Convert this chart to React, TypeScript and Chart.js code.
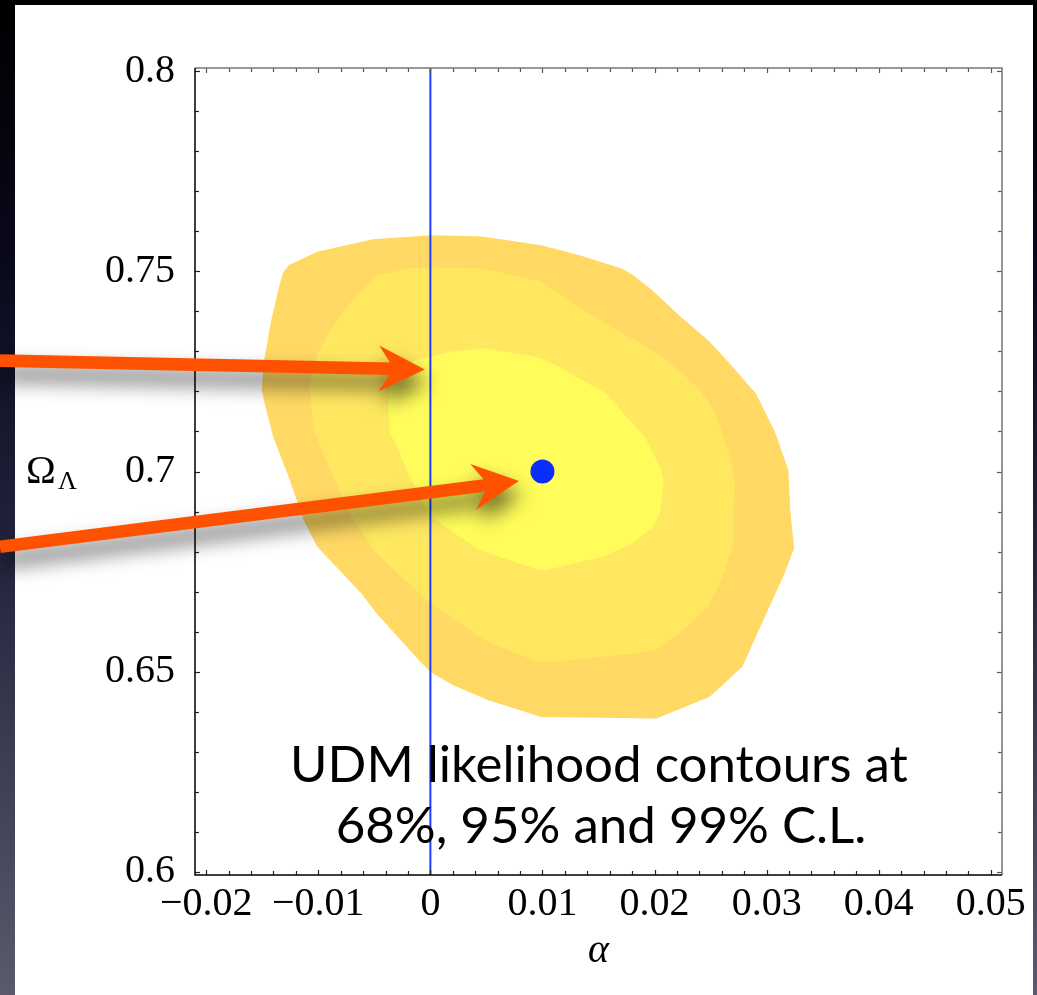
import React, { useEffect, useRef } from "react";
import { Chart, registerables } from "chart.js";

Chart.register(...registerables);

// ---- axes ----
const X_MIN = -0.021;
const X_MAX = 0.051;
const Y_MIN = 0.5992;
const Y_MAX = 0.8008;
const X_TICKS = [-0.02, -0.01, 0, 0.01, 0.02, 0.03, 0.04, 0.05];
const X_TICK_LABELS = ["\u22120.02", "\u22120.01", "0", "0.01", "0.02", "0.03", "0.04", "0.05"];
const Y_TICKS = [0.6, 0.65, 0.7, 0.75, 0.8];
const Y_TICK_LABELS = ["0.6", "0.65", "0.7", "0.75", "0.8"];
const X_MINOR_STEP = 0.002;
const Y_MINOR_STEP = 0.01;
const X_TITLE = "\u03B1";
const Y_TITLE = "\u03A9";
const Y_TITLE_SUB = "\u039B";
const NOTE_LINES = ["UDM likelihood contours at", "68%, 95% and 99% C.L."];

// ---- contours (alpha, Omega_Lambda) ----
const CONTOUR_99: [number, number][] = [
  [-0.01317, 0.7495], [-0.01265, 0.7515], [-0.01009, 0.7549], [-0.00513, 0.758],
  [0.0, 0.759], [0.00443, 0.7588], [0.0099, 0.7565], [0.01331, 0.754],
  [0.01707, 0.7507], [0.0181, 0.749], [0.0198, 0.7453], [0.0222, 0.739],
  [0.02493, 0.7324], [0.02698, 0.7261], [0.02904, 0.7195], [0.03074, 0.7099],
  [0.03194, 0.7003], [0.03211, 0.6903], [0.03245, 0.6808], [0.0316, 0.6745],
  [0.02971, 0.6629], [0.02784, 0.6512], [0.02493, 0.6437], [0.02015, 0.6383],
  [0.0099, 0.6387], [0.00512, 0.6429], [0.00204, 0.6466], [0.0, 0.6499],
  [-0.00104, 0.6529], [-0.00479, 0.6645], [-0.00616, 0.6695], [-0.01009, 0.6812],
  [-0.01129, 0.6878], [-0.01265, 0.6987], [-0.01402, 0.7086], [-0.01471, 0.7161],
  [-0.01504, 0.7203], [-0.01488, 0.727], [-0.0142, 0.7378], [-0.01351, 0.7461],
  [-0.01317, 0.7495],
];
const CONTOUR_95: [number, number][] = [
  [-0.00479, 0.749], [-0.00172, 0.7507], [0.0, 0.751], [0.00477, 0.7507],
  [0.0099, 0.7474], [0.01127, 0.7449], [0.01366, 0.7403], [0.01639, 0.7357],
  [0.0198, 0.7303], [0.02186, 0.7261], [0.02408, 0.7203], [0.02545, 0.7145],
  [0.02664, 0.7045], [0.02715, 0.6978], [0.02698, 0.6812], [0.02596, 0.6728],
  [0.02476, 0.6662], [0.02254, 0.6604], [0.02015, 0.6554], [0.0181, 0.6545],
  [0.01058, 0.6524], [0.00921, 0.6529], [0.00512, 0.6574], [0.0, 0.667],
  [-0.00479, 0.6795], [-0.00685, 0.6878], [-0.00788, 0.6937], [-0.00992, 0.707],
  [-0.01044, 0.7111], [-0.01078, 0.7211], [-0.01009, 0.7295], [-0.00889, 0.7353],
  [-0.00719, 0.742], [-0.00582, 0.7461], [-0.00479, 0.749],
];
const CONTOUR_68: [number, number][] = [
  [0.0, 0.7286], [0.0017, 0.7299], [0.00477, 0.7307], [0.00921, 0.7288],
  [0.01092, 0.727], [0.01331, 0.7232], [0.01571, 0.7195], [0.01673, 0.7161],
  [0.01913, 0.7086], [0.02049, 0.7011], [0.02083, 0.6978], [0.02049, 0.6895],
  [0.0198, 0.6858], [0.01776, 0.6816], [0.01537, 0.6787], [0.01024, 0.6753],
  [0.00921, 0.6758], [0.00443, 0.6803], [0.0, 0.6887], [-0.00172, 0.6978],
  [-0.00309, 0.707], [-0.0036, 0.7095], [-0.00377, 0.7161], [-0.0036, 0.7216],
  [-0.00268, 0.7258], [-0.00134, 0.7278], [0.0, 0.7286],
];
const BEST_FIT = { x: 0.01, y: 0.7 };
const ZERO_LINE_X = 0;

// arrows (tail -> tip) in data coordinates
const ARROW_TAILS: [number, number][] = [[-0.0384, 0.7277], [-0.0384, 0.6812]];
const ARROW_TIPS: [number, number][] = [[-0.0005, 0.7255], [0.0079, 0.6976]];

const COLORS = {
  c99: "#FFD964",
  c95: "#FFE860",
  c68: "#FFFC5B",
  zero: "#1E3CFF",
  best: "#0A2EFF",
  arrow: "#FF5200",
};

const SERIF = "'Liberation Serif', 'Times New Roman', serif";
const SANS = "Lato, 'Open Sans', sans-serif";

const toPts = (arr: [number, number][]) => arr.map(([x, y]) => ({ x, y }));

const bgPlugin = {
  id: "slideBg",
  beforeDraw(chart: any) {
    const { ctx, width, height } = chart;
    ctx.save();
    const g = ctx.createLinearGradient(0, 0, 0, height);
    g.addColorStop(0, "#000000");
    g.addColorStop(0.25, "#08081a");
    g.addColorStop(0.55, "#22223c");
    g.addColorStop(1, "#5a5a6c");
    ctx.fillStyle = g;
    ctx.fillRect(0, 0, width, height);
    ctx.fillStyle = "#ffffff";
    ctx.fillRect(15, 5, 1018, height - 5);
    ctx.restore();
  },
};

const framePlugin = {
  id: "frameTicks",
  afterDatasetsDraw(chart: any) {
    const { ctx, chartArea: a, scales } = chart;
    const xs = scales.x;
    const ys = scales.y;
    ctx.save();
    ctx.lineWidth = 1.2;
    const xMinor: number[] = [];
    for (let i = 0; ; i++) {
      const v = X_TICKS[0] + i * X_MINOR_STEP;
      if (v > X_TICKS[X_TICKS.length - 1] + 1e-9) break;
      xMinor.push(v);
    }
    const yMinor: number[] = [];
    for (let i = 0; ; i++) {
      const v = Y_TICKS[0] + i * Y_MINOR_STEP;
      if (v > Y_TICKS[Y_TICKS.length - 1] + 1e-9) break;
      yMinor.push(v);
    }
    const isMajor = (v: number, list: number[]) => list.some((t) => Math.abs(t - v) < 1e-7);
    xMinor.forEach((v) => {
      const px = Math.round(xs.getPixelForValue(v)) + 0.5;
      const len = isMajor(v, X_TICKS) ? 5 : 4;
      ctx.strokeStyle = "#222";
      ctx.beginPath();
      ctx.moveTo(px, a.bottom);
      ctx.lineTo(px, a.bottom - len);
      ctx.stroke();
      ctx.strokeStyle = "#555";
      ctx.beginPath();
      ctx.moveTo(px, a.top);
      ctx.lineTo(px, a.top + len);
      ctx.stroke();
    });
    yMinor.forEach((v) => {
      const py = Math.round(ys.getPixelForValue(v)) + 0.5;
      const len = isMajor(v, Y_TICKS) ? 5 : 4;
      ctx.strokeStyle = "#222";
      ctx.beginPath();
      ctx.moveTo(a.left, py);
      ctx.lineTo(a.left + len, py);
      ctx.stroke();
      ctx.strokeStyle = "#555";
      ctx.beginPath();
      ctx.moveTo(a.right, py);
      ctx.lineTo(a.right - len, py);
      ctx.stroke();
    });
    // frame
    ctx.lineWidth = 1.5;
    ctx.strokeStyle = "#777";
    ctx.beginPath();
    ctx.moveTo(a.left, a.top);
    ctx.lineTo(a.right, a.top);
    ctx.lineTo(a.right, a.bottom);
    ctx.stroke();
    ctx.strokeStyle = "#000";
    ctx.beginPath();
    ctx.moveTo(a.left, a.top);
    ctx.lineTo(a.left, a.bottom);
    ctx.lineTo(a.right, a.bottom);
    ctx.stroke();
    ctx.restore();
  },
};

const textPlugin = {
  id: "texts",
  afterDatasetsDraw(chart: any) {
    const { ctx, chartArea: a, scales } = chart;
    const ys = scales.y;
    ctx.save();
    ctx.fillStyle = "#000";
    // axis titles
    ctx.font = `italic 40px ${SERIF}`;
    ctx.textAlign = "center";
    ctx.textBaseline = "alphabetic";
    ctx.fillText(X_TITLE, (a.left + a.right) / 2, 962);
    const yMid = ys.getPixelForValue(0.7);
    ctx.textAlign = "left";
    ctx.font = `40px ${SERIF}`;
    ctx.fillText(Y_TITLE, 26, yMid + 11);
    ctx.font = `26px ${SERIF}`;
    ctx.fillText(Y_TITLE_SUB, 58, yMid + 17);
    // note
    ctx.textAlign = "center";
    let size = 52;
    ctx.font = `${size}px ${SANS}`;
    const w = ctx.measureText(NOTE_LINES[0]).width;
    size = size * 618 / w;
    ctx.font = `${size}px ${SANS}`;
    ctx.fillText(NOTE_LINES[0], 599, 782);
    ctx.fillText(NOTE_LINES[1], 601, 843);
    ctx.restore();
  },
};

const arrowPlugin = {
  id: "arrows",
  afterDraw(chart: any) {
    const { ctx, scales } = chart;
    const xs = scales.x;
    const ys = scales.y;
    ctx.save();
    ARROW_TAILS.forEach((tail, i) => {
      const tip = ARROW_TIPS[i];
      const x0 = xs.getPixelForValue(tail[0]);
      const y0 = ys.getPixelForValue(tail[1]);
      const x1 = xs.getPixelForValue(tip[0]);
      const y1 = ys.getPixelForValue(tip[1]);
      const dx = x1 - x0;
      const dy = y1 - y0;
      const len = Math.hypot(dx, dy);
      const ux = dx / len;
      const uy = dy / len;
      const nx = -uy;
      const ny = ux;
      const sw = 6.3;
      const headL = 46;
      const notch = 35;
      const hw = 23;
      const P = (d: number, n: number) => [x1 - ux * d + nx * n, y1 - uy * d + ny * n];
      const pts = [
        [x0 + nx * sw, y0 + ny * sw],
        P(notch, sw),
        P(headL, hw),
        [x1, y1],
        P(headL, -hw),
        P(notch, -sw),
        [x0 - nx * sw, y0 - ny * sw],
      ];
      ctx.shadowColor = "rgba(0,0,0,0.6)";
      ctx.shadowBlur = 20;
      ctx.shadowOffsetX = 3;
      ctx.shadowOffsetY = 13;
      ctx.fillStyle = COLORS.arrow;
      ctx.beginPath();
      pts.forEach((p, k) => (k === 0 ? ctx.moveTo(p[0], p[1]) : ctx.lineTo(p[0], p[1])));
      ctx.closePath();
      ctx.fill();
    });
    ctx.restore();
  },
};

export default function App() {
  const ref = useRef<HTMLCanvasElement | null>(null);
  useEffect(() => {
    if (!ref.current) return;
    const chart = new Chart(ref.current, {
      type: "line",
      data: {
        datasets: [
          {
            label: "alpha = 0",
            data: [{ x: ZERO_LINE_X, y: Y_MIN }, { x: ZERO_LINE_X, y: Y_MAX }],
            borderColor: COLORS.zero,
            borderWidth: 2,
            pointRadius: 0,
            fill: false,
            order: 1,
          },
          {
            label: "best fit",
            data: [BEST_FIT],
            showLine: false,
            pointRadius: 12,
            pointBackgroundColor: COLORS.best,
            pointBorderWidth: 0,
            pointBorderColor: COLORS.best,
            order: 0,
          },
          {
            label: "68%",
            data: toPts(CONTOUR_68),
            fill: "shape",
            backgroundColor: COLORS.c68,
            borderColor: "rgba(0,0,0,0)",
            borderWidth: 1,
            pointRadius: 0,
            tension: 0,
            order: 2,
          },
          {
            label: "95%",
            data: toPts(CONTOUR_95),
            fill: "shape",
            backgroundColor: COLORS.c95,
            borderColor: "rgba(0,0,0,0)",
            borderWidth: 1,
            pointRadius: 0,
            tension: 0,
            order: 3,
          },
          {
            label: "99%",
            data: toPts(CONTOUR_99),
            fill: "shape",
            backgroundColor: COLORS.c99,
            borderColor: "rgba(0,0,0,0)",
            borderWidth: 1,
            pointRadius: 0,
            tension: 0,
            order: 4,
          },
        ],
      },
      options: {
        responsive: false,
        animation: false,
        events: [],
        layout: { padding: { top: 68, right: 35, left: 0, bottom: 0 } },
        plugins: { legend: { display: false }, tooltip: { enabled: false } },
        scales: {
          x: {
            type: "linear",
            min: X_MIN,
            max: X_MAX,
            afterBuildTicks: (s: any) => {
              s.ticks = X_TICKS.map((v) => ({ value: v }));
            },
            ticks: {
              callback: (v: any) => {
                const i = X_TICKS.findIndex((t) => Math.abs(t - Number(v)) < 1e-7);
                return i >= 0 ? X_TICK_LABELS[i] : "";
              },
              font: { family: SERIF, size: 40 },
              color: "#000",
              padding: 5,
              maxRotation: 0,
              autoSkip: false,
            },
            grid: { display: false, drawTicks: false },
            border: { display: false },
            afterFit: (s: any) => {
              s.height = 120;
            },
          },
          y: {
            type: "linear",
            min: Y_MIN,
            max: Y_MAX,
            afterBuildTicks: (s: any) => {
              s.ticks = Y_TICKS.map((v) => ({ value: v }));
            },
            ticks: {
              callback: (v: any) => {
                const i = Y_TICKS.findIndex((t) => Math.abs(t - Number(v)) < 1e-7);
                return i >= 0 ? Y_TICK_LABELS[i] : "";
              },
              font: { family: SERIF, size: 40 },
              color: "#000",
              padding: 20,
              autoSkip: false,
            },
            grid: { display: false, drawTicks: false },
            border: { display: false },
            afterFit: (s: any) => {
              s.width = 195;
            },
          },
        },
      },
      plugins: [bgPlugin, framePlugin, textPlugin, arrowPlugin],
    } as any);
    return () => chart.destroy();
  }, []);

  return (
    <div style={{ position: "fixed", left: 0, top: 0, width: 1037, height: 995 }}>
      <canvas ref={ref} width={1037} height={995} style={{ display: "block" }} />
    </div>
  );
}
